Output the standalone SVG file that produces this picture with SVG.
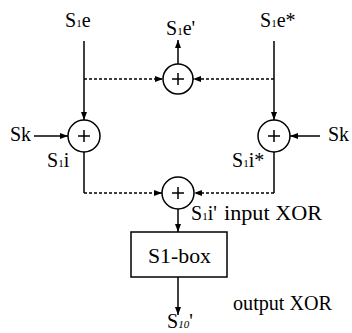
<svg xmlns="http://www.w3.org/2000/svg" width="352" height="333" viewBox="0 0 352 333">
<style>
text{font-family:"Liberation Serif","Times New Roman",serif;font-size:20px;fill:#000}
.sub{font-size:11px}
.ln{stroke:#000;stroke-width:1.5;fill:none}
.dot{stroke:#000;stroke-width:1.3;fill:none;stroke-dasharray:3 2}
.xor{stroke:#000;stroke-width:1.5;fill:#fff}
.plus{stroke:#000;stroke-width:1.5}
</style>
<defs>
<marker id="ah" markerUnits="userSpaceOnUse" markerWidth="8" markerHeight="6" refX="8" refY="3" orient="auto">
<path d="M0,0 L8,3 L0,6 Z" fill="#000"/>
</marker>
</defs>
<rect width="352" height="333" fill="#fff"/>
<g id="connectors">
<line class="ln" x1="84" y1="41" x2="84" y2="120" marker-end="url(#ah)"/>
<line class="ln" x1="274" y1="41" x2="274" y2="120" marker-end="url(#ah)"/>
<line class="dot" x1="84" y1="79" x2="163" y2="79" marker-end="url(#ah)"/>
<line class="dot" x1="274" y1="79" x2="193" y2="79" marker-end="url(#ah)"/>
<line class="ln" x1="178" y1="64" x2="178" y2="40" marker-end="url(#ah)"/>
<line class="ln" x1="34" y1="136" x2="68" y2="136" marker-end="url(#ah)"/>
<line class="ln" x1="320" y1="136" x2="290" y2="136" marker-end="url(#ah)"/>
<polyline class="ln" points="84,152 84,193"/>
<line class="dot" x1="84" y1="193" x2="162" y2="193" marker-end="url(#ah)"/>
<polyline class="ln" points="274,152 274,193"/>
<line class="dot" x1="274" y1="193" x2="194" y2="193" marker-end="url(#ah)"/>
<line class="ln" x1="178" y1="209" x2="178" y2="232" marker-end="url(#ah)"/>
<line class="ln" x1="178" y1="277" x2="178" y2="315" marker-end="url(#ah)"/>
</g>
<g id="xor-top">
<circle class="xor" cx="178" cy="79" r="15"/>
<path class="plus" d="M172,79 H184 M178,73 V85"/>
</g>
<g id="xor-left">
<circle class="xor" cx="84" cy="136" r="16"/>
<path class="plus" d="M78,136 H90 M84,130 V142"/>
</g>
<g id="xor-right">
<circle class="xor" cx="274" cy="136" r="16"/>
<path class="plus" d="M268,136 H280 M274,130 V142"/>
</g>
<g id="xor-bottom">
<circle class="xor" cx="178" cy="193" r="16"/>
<path class="plus" d="M172,193 H184 M178,187 V199"/>
</g>
<g id="s1box">
<rect x="131" y="232" width="96" height="45" fill="#fff" stroke="#000" stroke-width="1.5"/>
<text x="148" y="263" textLength="63" lengthAdjust="spacingAndGlyphs">S1-box</text>
</g>
<g id="labels">
<text x="65" y="27">S<tspan class="sub">1</tspan>e</text>
<text x="260" y="27">S<tspan class="sub">1</tspan>e*</text>
<text x="166" y="35">S<tspan class="sub">1</tspan>e'</text>
<text x="10" y="141">Sk</text>
<text x="328" y="141">Sk</text>
<text x="47" y="167">S<tspan class="sub">1</tspan>i</text>
<text x="232" y="167">S<tspan class="sub">1</tspan>i*</text>
<text x="191" y="220">S<tspan class="sub">1</tspan>i'</text>
<text x="224" y="220" textLength="98" lengthAdjust="spacingAndGlyphs">input XOR</text>
<text x="233" y="310" textLength="99" lengthAdjust="spacingAndGlyphs">output XOR</text>
<text x="167" y="328">S<tspan class="sub" font-style="italic">10</tspan>'</text>
</g>
</svg>
